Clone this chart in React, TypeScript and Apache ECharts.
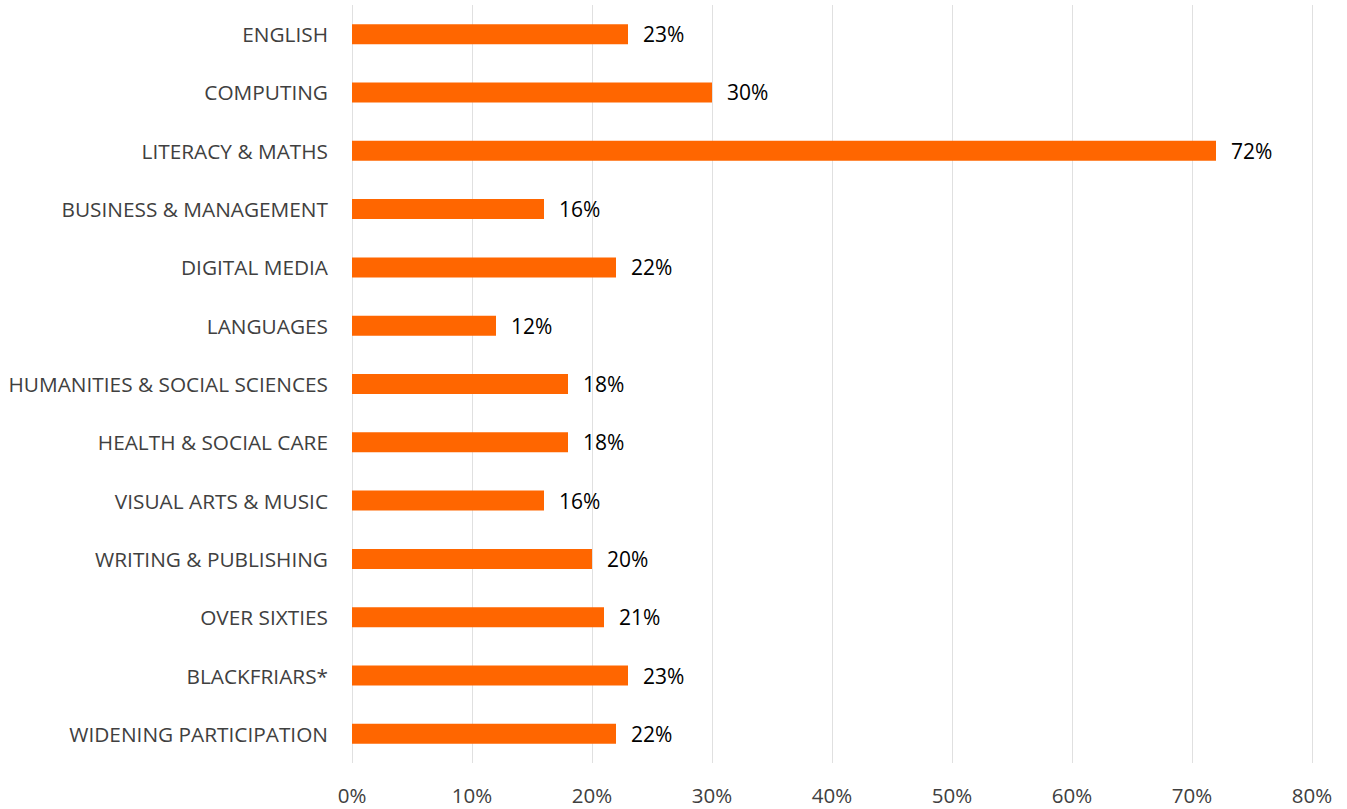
import React, { useEffect, useRef } from "react";
import * as echarts from "echarts";

const categories = [
  "ENGLISH",
  "COMPUTING",
  "LITERACY & MATHS",
  "BUSINESS & MANAGEMENT",
  "DIGITAL MEDIA",
  "LANGUAGES",
  "HUMANITIES & SOCIAL SCIENCES",
  "HEALTH & SOCIAL CARE",
  "VISUAL ARTS & MUSIC",
  "WRITING & PUBLISHING",
  "OVER SIXTIES",
  "BLACKFRIARS*",
  "WIDENING PARTICIPATION",
];

const values = [23, 30, 72, 16, 22, 12, 18, 18, 16, 20, 21, 23, 22];

const FONT = "'Open Sans', 'Liberation Sans', sans-serif";

export default function App() {
  const ref = useRef<HTMLDivElement>(null);

  useEffect(() => {
    if (!ref.current) return;
    const chart = echarts.init(ref.current, null, { renderer: "svg" });
    chart.setOption({
      animation: false,
      backgroundColor: "#ffffff",
      grid: { left: 352, right: 35, top: 5, bottom: 46, containLabel: false },
      xAxis: {
        type: "value",
        min: 0,
        max: 80,
        interval: 10,
        axisLine: { show: false },
        axisTick: { show: false },
        splitLine: { show: true, lineStyle: { color: "#e0e0e0", width: 1 } },
        axisLabel: {
          formatter: "{value}%",
          color: "#404040",
          fontFamily: FONT,
          fontSize: 20.5,
          margin: 21,
        },
      },
      yAxis: {
        type: "category",
        data: categories,
        inverse: true,
        axisLine: { show: false },
        axisTick: { show: false },
        axisLabel: {
          color: "#404040",
          fontFamily: FONT,
          fontSize: 20.8,
          margin: 24,
        },
      },
      series: [
        {
          type: "bar",
          data: values,
          barWidth: 20,
          itemStyle: { color: "#ff6600" },
          label: {
            show: true,
            position: "right",
            distance: 15,
            formatter: "{c}%",
            color: "#000000",
            fontFamily: FONT,
            fontSize: 21,
          },
        },
      ],
    });
    return () => chart.dispose();
  }, []);

  return (
    <div
      ref={ref}
      style={{ position: "absolute", left: 0, top: 0, width: 1347, height: 809 }}
    />
  );
}
